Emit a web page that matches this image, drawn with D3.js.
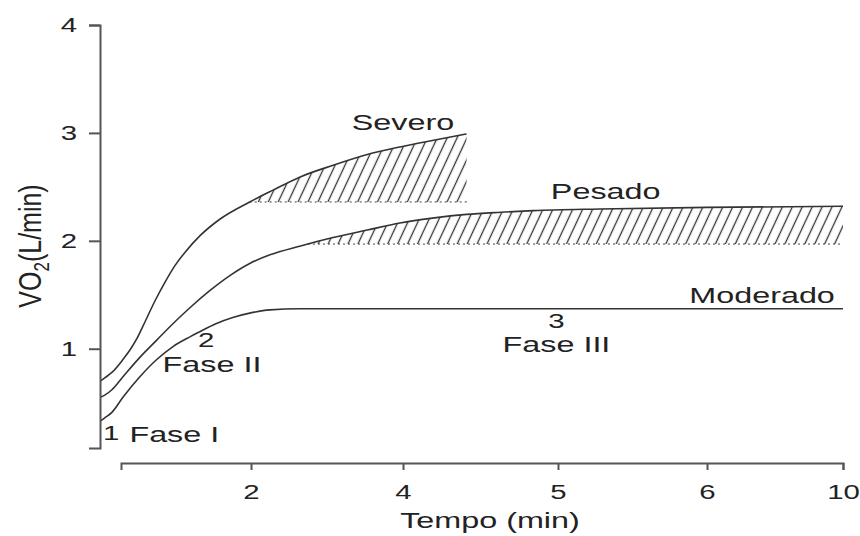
<!DOCTYPE html>
<html>
<head>
<meta charset="utf-8">
<script src="https://cdn.jsdelivr.net/npm/d3@7"></script>
<style>
body { margin: 0; background: #fff; }
text { font-family: "Liberation Sans", Arial, sans-serif; fill: #222; }
</style>
</head>
<body>
<svg width="860" height="536"></svg>
<script>
// tempo (min) / VO2 (L/min)
var severoT = [-0.32,-0.25,-0.14,0.03,0.14,0.25,0.37,0.52,0.68,0.83,0.98,1.22,1.52,1.98,2.29,2.64,3.08,3.53,3.96,4.19,4.41];
var severoV = [0.70,0.73,0.78,0.90,0.99,1.10,1.25,1.44,1.62,1.77,1.89,2.05,2.20,2.36,2.47,2.59,2.70,2.80,2.87,2.93,2.99];

var pesadoT = [-0.32,-0.25,-0.14,0.03,0.29,0.55,0.83,1.06,1.37,1.68,1.98,2.25,2.64,3.08,3.53,3.96,4.19,4.41,4.63,4.84,5.28,6.00,10.0];
var pesadoV = [0.55,0.57,0.62,0.74,0.92,1.08,1.25,1.38,1.54,1.68,1.79,1.87,1.95,2.03,2.10,2.165,2.21,2.245,2.265,2.28,2.295,2.31,2.32];

var moderadoT = [-0.32,-0.25,-0.14,0.03,0.29,0.55,0.80,1.06,1.22,1.45,1.72,1.98,2.25,2.64,10.0];
var moderadoV = [0.33,0.36,0.41,0.55,0.74,0.90,1.02,1.11,1.16,1.23,1.29,1.33,1.36,1.37,1.37];

// bottom of the hatched bands
var severoBase = 2.36;
var pesadoBase = 1.97;

var xTicks = [0, 2, 4, 5, 6, 10];
var yTicks = [1, 2, 3, 4];

var SX = 1.47; // the original figure is stretched sideways

var svg = d3.select('svg');

// the time axis is not evenly spaced in the original
var x = d3.scaleLinear().domain(xTicks).range([121, 251, 403, 558, 707, 843]);
var y = d3.scaleLinear().domain([0.08, 4]).range([448, 25]);

function pts(ts, vs) {
  return ts.map(function(t, i) { return {t: t, v: vs[i]}; });
}
var severo = pts(severoT, severoV);
var pesado = pts(pesadoT, pesadoV);
var moderado = pts(moderadoT, moderadoV);

var defs = svg.append('defs');
defs.append('pattern')
  .attr('id', 'hatch')
  .attr('patternUnits', 'userSpaceOnUse')
  .attr('width', 9).attr('height', 9)
  .attr('patternTransform', 'rotate(25)')
  .append('line')
  .attr('x1', 4.5).attr('y1', 0).attr('x2', 4.5).attr('y2', 9)
  .attr('stroke', '#333').attr('stroke-width', 1.3);

var line = d3.line()
  .x(function(d) { return x(d.t); })
  .y(function(d) { return y(d.v); })
  .curve(d3.curveMonotoneX);

// where the curve first reaches the band base
function crossing(data, base) {
  for (var i = 1; i < data.length; i++) {
    if (data[i].v >= base) {
      var a = data[i-1], b = data[i];
      return a.t + (base - a.v) / (b.v - a.v) * (b.t - a.t);
    }
  }
  return data[data.length-1].t;
}

function band(data, base, id) {
  defs.append('clipPath').attr('id', id)
    .append('rect')
    .attr('x', 0).attr('y', 0)
    .attr('width', 860).attr('height', y(base));

  var area = d3.area()
    .x(function(d) { return x(d.t); })
    .y0(y(base))
    .y1(function(d) { return y(d.v); })
    .curve(d3.curveMonotoneX);

  svg.append('path')
    .datum(data)
    .attr('d', area)
    .attr('fill', 'url(#hatch)')
    .attr('clip-path', 'url(#' + id + ')');

  var t0 = crossing(data, base);
  svg.append('line')
    .attr('x1', x(t0)).attr('x2', x(data[data.length-1].t))
    .attr('y1', y(base)).attr('y2', y(base))
    .attr('stroke', '#444').attr('stroke-width', 1)
    .attr('stroke-dasharray', '2,3');
}

band(severo, severoBase, 'clipSevero');
band(pesado, pesadoBase, 'clipPesado');

[severo, pesado, moderado].forEach(function(s) {
  svg.append('path')
    .datum(s)
    .attr('d', line)
    .attr('fill', 'none')
    .attr('stroke', '#333')
    .attr('stroke-width', 1.6);
});

// axes
var xAxis = svg.append('g')
  .attr('transform', 'translate(0,463)')
  .call(d3.axisBottom(x).tickValues(xTicks.slice(1)).tickFormat(d3.format('d')).tickSize(7).tickSizeOuter(7));
xAxis.attr('font-size', null).attr('font-family', null);
xAxis.selectAll('text')
  .attr('y', 36).attr('dy', null)
  .attr('transform', 'scale(' + SX + ',1)')
  .style('font-size', '20px');

var yAxis = svg.append('g')
  .attr('transform', 'translate(100,0)')
  .call(d3.axisLeft(y).tickValues(yTicks).tickFormat(d3.format('d')).tickSize(11).tickSizeOuter(11));
yAxis.attr('font-size', null).attr('font-family', null);
yAxis.selectAll('text')
  .attr('x', null)
  .attr('transform', 'translate(-23,0) scale(' + SX + ',1)')
  .style('font-size', '20px');

svg.selectAll('.domain, .tick line')
  .attr('stroke', '#555')
  .attr('stroke-width', 2);

// labels
function label(txt, t, v, size, anchor) {
  svg.append('text')
    .attr('transform', 'translate(' + x(t) + ',' + y(v) + ') scale(' + SX + ',1)')
    .attr('text-anchor', anchor || 'middle')
    .style('font-size', size + 'px')
    .text(txt);
}

label('Severo', 4.0, 3.03, 22);
label('Pesado', 5.32, 2.39, 22);
label('Moderado', 9.76, 1.42, 22, 'end');
label('3', 4.99, 1.19, 20);
label('Fase III', 4.99, 0.97, 22);
label('2', 1.31, 1.02, 20);
label('Fase II', 1.40, 0.78, 22);
label('1', -0.15, 0.15, 20);
label('Fase I', 0.82, 0.14, 22);

svg.append('text')
  .attr('transform', 'translate(490,528) scale(' + SX + ',1)')
  .attr('text-anchor', 'middle')
  .style('font-size', '22px')
  .text('Tempo (min)');

var yt = svg.append('text')
  .attr('transform', 'translate(41,246) scale(1.25,1) rotate(-90)')
  .attr('text-anchor', 'middle')
  .style('font-size', '25px');
yt.append('tspan').text('VO');
yt.append('tspan').attr('dy', 6).style('font-size', '17px').text('2');
yt.append('tspan').attr('dy', -6).text('(L/min)');
</script>
</body>
</html>
